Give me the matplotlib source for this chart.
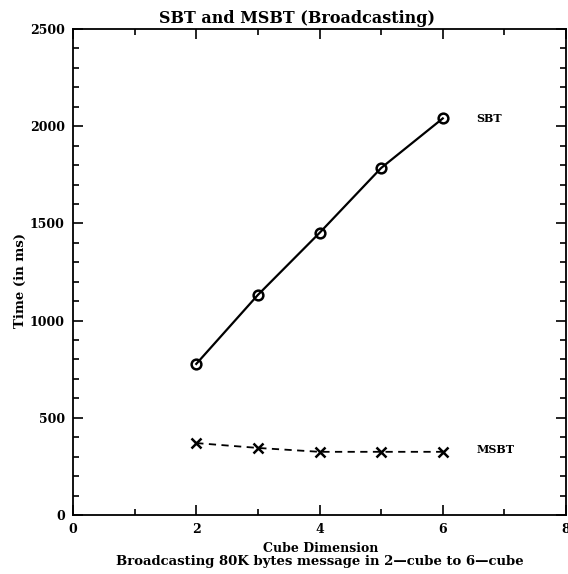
import matplotlib
matplotlib.use("Agg")
import matplotlib.pyplot as plt
from matplotlib.ticker import MultipleLocator

cube_dim = [2, 3, 4, 5, 6]
sbt = [777, 1132, 1451, 1785, 2040]
msbt = [370, 345, 325, 325, 325]
x_ticks = [0, 2, 4, 6, 8]
y_ticks = [0, 500, 1000, 1500, 2000, 2500]

plt.rcParams['font.family'] = ['DejaVu Serif']
plt.rcParams['font.weight'] = 'bold'

W, H = 568, 574
fig = plt.figure(figsize=(W/100, H/100), dpi=100)
ax = fig.add_axes([73/W, 1-515/H, (566-73)/W, (515-29)/H])

ax.plot(cube_dim, sbt, color='black', lw=1.6, marker='o', ms=7,
        mfc='none', mec='black', mew=1.8)
ax.plot(cube_dim, msbt, color='black', lw=1.3, ls=(0, (4, 3)), marker='x',
        ms=7, mew=1.8)

ax.text(6.55, sbt[-1], 'SBT', fontsize=8, fontweight='bold', va='center')
ax.text(6.55, msbt[-1] + 10, 'MSBT', fontsize=8, fontweight='bold', va='center')

ax.set_xlim(0, 8)
ax.set_ylim(0, 2500)
ax.set_xticks(x_ticks)
ax.set_yticks(y_ticks)
ax.xaxis.set_minor_locator(MultipleLocator(1))
ax.yaxis.set_minor_locator(MultipleLocator(100))
ax.tick_params(which='both', direction='in', top=True, right=True,
               labelsize=9, width=1.2, pad=6)
ax.tick_params(which='major', length=7)
ax.tick_params(which='minor', length=4)
for lab in ax.get_xticklabels() + ax.get_yticklabels():
    lab.set_fontweight('bold')
for s in ax.spines.values():
    s.set_linewidth(1.3)

ax.set_title('SBT and MSBT (Broadcasting)', fontsize=11.5, fontweight='bold',
             pad=4, x=(297-73)/(566-73))
fig.text(321/W, 1-548/H, 'Cube Dimension', fontsize=9, fontweight='bold',
         ha='center', va='center')
fig.text(320/W, 1-561/H, 'Broadcasting 80K bytes message in 2\u2014cube to 6\u2014cube',
         fontsize=9.5, fontweight='bold', ha='center', va='center')
fig.text(20/W, 1-280/H, 'Time (in ms)', fontsize=9.5, fontweight='bold',
         ha='center', va='center', rotation=90)

fig.savefig('out.png', dpi=100)
